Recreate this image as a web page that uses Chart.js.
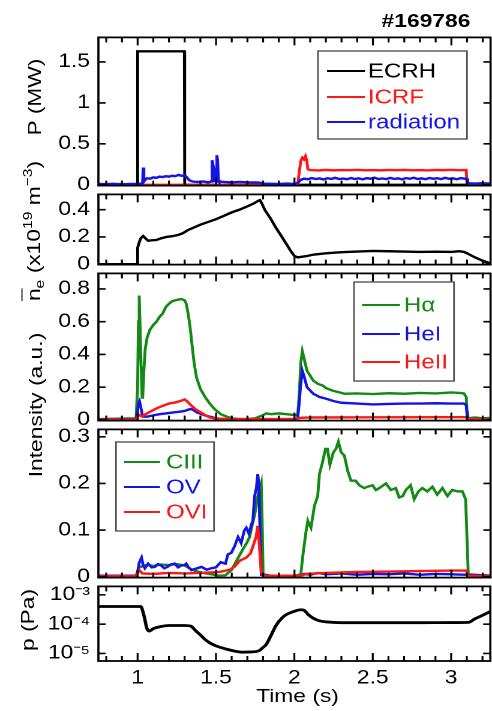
<!DOCTYPE html>
<html><head><meta charset="utf-8">
<script src="https://cdn.jsdelivr.net/npm/chart.js@4.4.1/dist/chart.umd.min.js"></script>
<style>
html,body{margin:0;padding:0;background:#fff;}
body{width:492px;height:711px;position:relative;overflow:hidden;font-family:"Liberation Sans",Arial,sans-serif;color:#000;}
#wrap{position:absolute;left:0;top:0;width:410px;height:711px;transform:scaleX(1.2);transform-origin:0 0;}
.pane{position:absolute;left:0;width:410px;}
.txt{position:absolute;white-space:nowrap;font-size:19px;line-height:1;transform:translate(-50%,-50%);}
.rot{position:absolute;white-space:nowrap;font-size:19px;line-height:1;transform:translate(-50%,-50%) rotate(-90deg) scaleX(1.2);}
.rot sub,.rot sup{font-size:13px;line-height:0;}
</style></head>
<body>
<div id="wrap">
  <div class="pane" style="top:19px;height:185px"><canvas id="c1"></canvas></div>
  <div class="pane" style="top:176px;height:107px"><canvas id="c2"></canvas></div>
  <div class="pane" style="top:255px;height:184px"><canvas id="c3"></canvas></div>
  <div class="pane" style="top:411px;height:185px"><canvas id="c4"></canvas></div>
  <div class="pane" style="top:568px;height:125px"><canvas id="c5"></canvas></div>
  <div class="txt" style="left:355px;top:20px;font-weight:bold;">#169786</div>
  <div class="txt" style="left:248px;top:695px;">Time (s)</div>
</div>
<div class="rot" style="left:34px;top:97px">P (MW)</div>
<div class="rot" style="left:33px;top:231px"><span style="text-decoration:overline">n</span><sub>e</sub> (x10<sup>19</sup> m<sup>−3</sup>)</div>
<div class="rot" style="left:35px;top:405px">Intensity (a.u.)</div>
<div class="rot" style="left:27px;top:620px">p (Pa)</div>
<script>
// ---------------- data ----------------
const xTickVals = [1, 1.5, 2, 2.5, 3];
const xTickLabels = ['1', '1.5', '2', '2.5', '3'];

const tEcrh = [0.75, 0.999, 1.0, 1.298, 1.3, 3.25];
const ecrh  = [0, 0, 1.63, 1.63, 0, 0];

const tIcrf = [0.75,2.02,2.028,2.04,2.05,2.06,2.07,2.078,2.085,2.1,2.15,2.2,2.25,2.3,2.35,2.4,2.45,2.5,2.55,2.6,2.65,2.7,2.75,2.8,2.85,2.9,2.95,3.0,3.05,3.095,3.1,3.25];
const icrf  = [0,0,0.12,0.29,0.33,0.31,0.35,0.3,0.19,0.18,0.175,0.182,0.176,0.18,0.178,0.183,0.177,0.18,0.176,0.181,0.178,0.182,0.177,0.18,0.175,0.181,0.179,0.183,0.178,0.18,0,0];

const tRad = [0.75,0.8,0.85,0.9,0.95,1.0,1.02,1.032,1.035,1.04,1.05,1.06,1.08,1.1,1.12,1.14,1.16,1.18,1.2,1.22,1.24,1.26,1.28,1.3,1.31,1.32,1.33,1.35,1.38,1.42,1.45,1.47,1.475,1.48,1.485,1.49,1.5,1.505,1.51,1.515,1.52,1.55,1.6,1.65,1.7,1.75,1.78,1.8,1.85,1.9,1.95,2.0,2.02,2.04,
  2.06,2.085,2.11,2.135,2.16,2.185,2.21,2.235,2.26,2.285,2.31,2.335,2.36,2.385,2.41,2.435,2.46,2.485,2.51,2.535,2.56,2.585,2.61,2.635,2.66,2.685,2.71,2.735,2.76,2.785,2.81,2.835,2.86,2.885,2.91,2.935,2.96,2.985,3.01,3.035,3.06,3.085,
  3.1,3.105,3.15,3.2,3.25];
const rad = [0.01,0.008,0.012,0.006,0.01,0.01,0.012,0.03,0.21,0.04,0.065,0.08,0.075,0.09,0.085,0.1,0.095,0.105,0.1,0.11,0.105,0.12,0.11,0.115,0.1,0.075,0.055,0.04,0.035,0.04,0.03,0.04,0.3,0.25,0.2,0.05,0.04,0.36,0.3,0.06,0.04,0.035,0.03,0.035,0.03,0.028,0.025,0.015,0.012,0.01,0.015,0.01,0.02,0.06,
  0.075,0.068,0.082,0.07,0.078,0.065,0.08,0.072,0.085,0.07,0.076,0.068,0.083,0.071,0.079,0.066,0.081,0.074,0.087,0.07,0.077,0.069,0.084,0.072,0.078,0.066,0.082,0.073,0.086,0.071,0.078,0.068,0.083,0.074,0.08,0.069,0.085,0.073,0.079,0.067,0.081,0.075,
  0.07,0.02,0.015,0.02,0.015];

const tNe = [0.75,0.998,1.0,1.01,1.02,1.035,1.05,1.067,1.09,1.12,1.15,1.184,1.22,1.26,1.29,1.32,1.36,1.4,1.45,1.5,1.55,1.6,1.65,1.7,1.74,1.77,1.78,1.79,1.81,1.85,1.88,1.92,1.95,1.98,2.0,2.02,2.05,2.08,2.12,2.2,2.3,2.4,2.5,2.6,2.7,2.8,2.9,3.0,3.05,3.08,3.1,3.15,3.2,3.25];
const ne  = [0,0,0.12,0.16,0.19,0.207,0.19,0.172,0.175,0.178,0.19,0.2,0.205,0.215,0.228,0.25,0.27,0.29,0.31,0.33,0.355,0.38,0.4,0.425,0.445,0.465,0.47,0.45,0.4,0.33,0.27,0.2,0.145,0.09,0.06,0.05,0.055,0.06,0.07,0.08,0.088,0.093,0.097,0.095,0.093,0.09,0.092,0.09,0.095,0.09,0.08,0.05,0.025,0.005];

const tHa = [0.75,0.9,0.99,1.0,1.005,1.01,1.015,1.02,1.028,1.032,1.04,1.048,1.06,1.078,1.1,1.12,1.14,1.16,1.18,1.2,1.22,1.24,1.26,1.28,1.3,1.31,1.32,1.33,1.34,1.35,1.36,1.375,1.4,1.43,1.46,1.49,1.53,1.57,1.6,1.65,1.7,1.75,1.8,1.82,1.85,1.9,1.95,2.0,2.02,2.03,2.04,2.05,2.06,2.08,2.1,2.12,2.15,2.18,2.2,2.24,2.28,2.32,2.4,2.5,2.6,2.7,2.8,2.9,3.0,3.05,3.08,3.095,3.1,3.105,3.15,3.2,3.25];
const ha  = [0.005,0.008,0.01,0.2,0.6,0.76,0.6,0.4,0.15,0.13,0.3,0.43,0.5,0.55,0.58,0.6,0.63,0.65,0.69,0.71,0.725,0.73,0.735,0.738,0.73,0.71,0.66,0.6,0.52,0.43,0.35,0.26,0.19,0.14,0.1,0.067,0.035,0.02,0.01,0.005,0.005,0.01,0.03,0.04,0.035,0.04,0.035,0.03,0.03,0.15,0.35,0.42,0.38,0.3,0.27,0.24,0.22,0.21,0.195,0.18,0.17,0.16,0.162,0.158,0.163,0.16,0.165,0.162,0.168,0.165,0.162,0.14,0.05,0.01,0.015,0.01,0.012];

const tHe1 = [0.75,0.99,1.0,1.005,1.012,1.02,1.03,1.04,1.06,1.1,1.14,1.18,1.22,1.25,1.28,1.3,1.32,1.34,1.36,1.38,1.41,1.44,1.47,1.5,1.55,1.6,1.8,2.0,2.02,2.03,2.04,2.05,2.06,2.08,2.1,2.12,2.14,2.16,2.2,2.25,2.3,2.4,2.5,2.6,2.7,2.8,2.9,3.0,3.08,3.095,3.1,3.105,3.25];
const he1  = [0.003,0.005,0.05,0.1,0.115,0.08,0.03,0.02,0.02,0.028,0.035,0.04,0.045,0.048,0.052,0.055,0.062,0.067,0.058,0.045,0.035,0.025,0.018,0.01,0.005,0.003,0.004,0.005,0.01,0.1,0.22,0.3,0.27,0.2,0.18,0.16,0.15,0.14,0.13,0.115,0.105,0.1,0.095,0.098,0.1,0.1,0.102,0.1,0.1,0.09,0.03,0.005,0.005];

const tHe2 = [0.75,0.99,1.0,1.01,1.03,1.05,1.08,1.12,1.16,1.2,1.24,1.28,1.3,1.32,1.34,1.37,1.4,1.43,1.46,1.5,1.6,2.0,2.03,2.1,2.5,3.0,3.095,3.1,3.25];
const he2  = [0.002,0.003,0.02,0.03,0.02,0.035,0.05,0.07,0.086,0.1,0.107,0.118,0.125,0.11,0.09,0.065,0.048,0.03,0.015,0.008,0.005,0.005,0.012,0.015,0.016,0.017,0.017,0.005,0.003];

const tC3 = [0.75,0.99,1.0,1.01,1.03,1.06,1.1,1.15,1.2,1.25,1.3,1.33,1.37,1.42,1.47,1.52,1.56,1.6,1.64,1.67,1.7,1.714,1.73,1.746,1.766,1.78,1.788,1.795,1.8,1.85,2.0,2.04,2.055,2.074,2.085,2.095,2.105,2.127,2.148,2.159,2.18,2.197,2.21,2.226,2.248,2.264,2.28,2.297,2.318,2.339,2.36,2.39,2.413,2.445,2.466,2.498,2.519,2.54,2.583,2.614,2.646,2.667,2.69,2.71,2.74,2.763,2.79,2.815,2.847,2.879,2.91,2.943,2.975,3.006,3.038,3.07,3.091,3.1,3.108,3.25];
const c3  = [0.002,0.002,0.01,0.02,0.022,0.025,0.023,0.026,0.025,0.027,0.024,0.018,0.012,0.008,0.005,0.002,0.003,0.015,0.04,0.058,0.075,0.085,0.11,0.132,0.173,0.19,0.2,0.1,0.005,0.002,0.002,0.005,0.05,0.098,0.12,0.112,0.105,0.152,0.173,0.22,0.247,0.274,0.274,0.24,0.267,0.274,0.29,0.267,0.26,0.227,0.206,0.206,0.196,0.19,0.193,0.196,0.186,0.19,0.2,0.186,0.19,0.17,0.173,0.186,0.196,0.166,0.183,0.19,0.183,0.193,0.176,0.19,0.173,0.186,0.183,0.183,0.166,0.08,0.005,0.002];

const tOv = [0.75,0.99,1.0,1.01,1.025,1.035,1.046,1.067,1.09,1.11,1.13,1.15,1.17,1.19,1.21,1.236,1.258,1.278,1.3,1.31,1.325,1.343,1.37,1.407,1.44,1.47,1.5,1.51,1.53,1.56,1.576,1.597,1.618,1.64,1.66,1.68,1.693,1.71,1.725,1.734,1.746,1.757,1.766,1.772,1.78,1.788,1.85,2.04,2.06,2.1,2.15,2.2,2.3,2.4,2.5,2.6,2.7,2.8,2.9,3.0,3.1,3.25];
const ov  = [0.002,0.002,0.01,0.03,0.041,0.025,0.018,0.028,0.02,0.021,0.027,0.024,0.018,0.021,0.026,0.028,0.02,0.024,0.025,0.028,0.02,0.014,0.017,0.021,0.015,0.018,0.02,0.024,0.031,0.028,0.048,0.051,0.065,0.085,0.072,0.099,0.105,0.092,0.112,0.119,0.173,0.19,0.22,0.2,0.1,0.004,0.002,0.002,0.006,0.004,0.008,0.005,0.007,0.004,0.006,0.005,0.007,0.004,0.006,0.005,0.004,0.002];

const tOvi = [0.75,0.99,1.0,1.01,1.03,1.1,1.2,1.3,1.4,1.52,1.587,1.62,1.65,1.693,1.72,1.735,1.755,1.766,1.775,1.788,1.8,2.04,2.08,2.2,2.4,2.6,2.8,3.0,3.095,3.105,3.25];
const ovi  = [0.001,0.001,0.008,0.014,0.007,0.006,0.008,0.007,0.008,0.01,0.015,0.022,0.034,0.041,0.05,0.065,0.085,0.109,0.07,0.012,0.002,0.002,0.006,0.008,0.01,0.011,0.012,0.013,0.013,0.002,0.001];

const tP = [0.75,1.02,1.04,1.06,1.075,1.1,1.15,1.2,1.3,1.34,1.37,1.4,1.43,1.46,1.5,1.566,1.62,1.671,1.72,1.777,1.8,1.82,1.85,1.883,1.92,1.947,2.0,2.04,2.06,2.09,2.12,2.16,2.2,2.3,2.5,2.8,3.0,3.11,3.15,3.2,3.25];
const pres = [4.0e-4,4.0e-4,2.0e-4,7.0e-5,5.8e-5,7.0e-5,8.3e-5,9.0e-5,9.0e-5,8.5e-5,6.0e-5,4.3e-5,3.0e-5,2.3e-5,1.8e-5,1.4e-5,1.2e-5,1.1e-5,1.12e-5,1.25e-5,1.6e-5,2.0e-5,4.0e-5,9.0e-5,1.6e-4,2.1e-4,2.75e-4,3.1e-4,3.0e-4,2.1e-4,1.6e-4,1.3e-4,1.2e-4,1.12e-4,1.12e-4,1.12e-4,1.13e-4,1.15e-4,1.5e-4,2.0e-4,2.7e-4];

const yTicksP = [0, 0.5, 1, 1.5];          const yLabelsP = ['0','0.5','1','1.5'];
const yTicksNe = [0, 0.2, 0.4];            const yLabelsNe = ['0','0.2','0.4'];
const yTicksI = [0, 0.2, 0.4, 0.6, 0.8];   const yLabelsI = ['0','0.2','0.4','0.6','0.8'];
const yTicksI2 = [0, 0.1, 0.2, 0.3];       const yLabelsI2 = ['0','0.1','0.2','0.3'];
const yTicksPr = [1e-5, 1e-4, 1e-3];       const yLabelsPr = ['10⁻⁵','10⁻⁴','10⁻³'];

// ---------------- drawing ----------------
const FONT = '"Liberation Sans", Arial, sans-serif';
const S = 1.2;            // horizontal stretch of the page wrapper
const Y_AXIS_W = 82;      // inner px
const GREEN = '#138a13', BLUE = '#1414e6', RED = '#ff1616', BLACK = '#000000';
Chart.defaults.font.family = FONT;
Chart.defaults.font.size = 19;
Chart.defaults.color = '#000';

function pts(t, v) { return t.map((x, i) => ({ x: x, y: v[i] })); }

const frameTicks = {
  id: 'frameTicks',
  afterDatasetsDraw(chart) {
    const ctx = chart.ctx, a = chart.chartArea, xs = chart.scales.x, ys = chart.scales.y;
    ctx.save();
    ctx.strokeStyle = '#000'; ctx.lineWidth = 1.8;
    ctx.strokeRect(a.left, a.top, a.right - a.left, a.bottom - a.top);
    ctx.beginPath();
    ctx.lineWidth = 1.6;
    for (let k = 8; k <= 32; k++) {
      const px = xs.getPixelForValue(k / 10);
      const len = (k % 5 === 0) ? 8 : 5;
      ctx.moveTo(px, a.top); ctx.lineTo(px, a.top + len);
      ctx.moveTo(px, a.bottom); ctx.lineTo(px, a.bottom - len);
    }
    ys.ticks.forEach(t => {
      const py = ys.getPixelForValue(t.value);
      ctx.moveTo(a.left, py); ctx.lineTo(a.left + 6, py);
      ctx.moveTo(a.right, py); ctx.lineTo(a.right - 6, py);
    });
    ctx.stroke();
    ctx.restore();
  }
};

const boxLegend = {
  id: 'boxLegend',
  afterDraw(chart, args, o) {
    if (!o || !o.box) return;
    const ctx = chart.ctx, top = o.top;
    const X = v => v / S, Y = v => v - top;
    const b = o.box;
    ctx.save();
    ctx.fillStyle = '#fff'; ctx.strokeStyle = '#555'; ctx.lineWidth = 1.4;
    ctx.fillRect(X(b[0]), Y(b[1]), X(b[2]) - X(b[0]), b[3] - b[1]);
    ctx.strokeRect(X(b[0]), Y(b[1]), X(b[2]) - X(b[0]), b[3] - b[1]);
    ctx.font = o.fontSize + 'px ' + FONT;
    ctx.textBaseline = 'middle'; ctx.textAlign = 'left';
    chart.data.datasets.forEach((d, i) => {
      const y = Y(o.rows[i]);
      ctx.strokeStyle = d.borderColor; ctx.lineWidth = 2;
      ctx.beginPath(); ctx.moveTo(X(o.line[0]), y); ctx.lineTo(X(o.line[1]), y); ctx.stroke();
      ctx.fillStyle = d.borderColor;
      ctx.fillText(d.label, X(o.textX), y + 1);
    });
    ctx.restore();
  }
};

function ds(label, t, v, color, n, i, extra) {
  return Object.assign({ label: label, data: pts(t, v), borderColor: color, backgroundColor: color,
    borderWidth: 2.4, pointRadius: 0, tension: 0, fill: false, order: n - 1 - i }, extra || {});
}

function yScale(type, min, max, ticks, labels) {
  return {
    type: type, min: min, max: max,
    afterFit(s) { s.width = Y_AXIS_W; },
    afterBuildTicks(s) { s.ticks = ticks.map(v => ({ value: v })); },
    ticks: { padding: 7, font: { size: 19 }, color: '#000', autoSkip: false,
      callback: (v, i) => labels[i] },
    grid: { display: false, drawTicks: false },
    border: { display: false }
  };
}

function makeChart(id, datasets, ys, legendOpts, withX) {
  const xs = withX ? {
    type: 'linear', min: 0.75, max: 3.25, position: 'bottom',
    afterFit(s) { s.height = 30; },
    afterBuildTicks(s) { s.ticks = xTickVals.map(v => ({ value: v })); },
    ticks: { padding: 6, font: { size: 19 }, color: '#000', maxRotation: 0, autoSkip: false,
      callback: (v, i) => xTickLabels[i] },
    grid: { display: false, drawTicks: false },
    border: { display: false }
  } : { type: 'linear', min: 0.75, max: 3.25, display: false };
  return new Chart(document.getElementById(id), {
    type: 'line',
    data: { datasets: datasets },
    options: {
      responsive: true, maintainAspectRatio: false, animation: false, devicePixelRatio: 2,
      events: [],
      layout: { padding: { top: 14, bottom: withX ? 2 : 14, left: 0, right: 1 } },
      plugins: { legend: { display: false }, tooltip: { enabled: false }, boxLegend: legendOpts || {} },
      scales: { x: xs, y: ys }
    },
    plugins: [frameTicks, boxLegend]
  });
}

makeChart('c1', [
  ds('ECRH', tEcrh, ecrh, BLACK, 3, 0),
  ds('ICRF', tIcrf, icrf, RED, 3, 1),
  ds('radiation', tRad, rad, BLUE, 3, 2)
], yScale('linear', -0.01, 1.8, yTicksP, yLabelsP),
  { top: 19, box: [318, 51, 467, 139], rows: [71, 97, 122], line: [327, 365], textX: 368, fontSize: 20 });

makeChart('c2', [
  ds('ne', tNe, ne, BLACK, 1, 0)
], yScale('linear', -0.003, 0.512, yTicksNe, yLabelsNe), null);

makeChart('c3', [
  ds('Hα', tHa, ha, GREEN, 3, 0),
  ds('HeI', tHe1, he1, BLUE, 3, 1),
  ds('HeII', tHe2, he2, RED, 3, 2)
], yScale('linear', -0.004, 0.895, yTicksI, yLabelsI),
  { top: 255, box: [354, 282, 454, 381], rows: [305, 334, 362], line: [362, 400], textX: 404, fontSize: 20 });

makeChart('c4', [
  ds('CIII', tC3, c3, GREEN, 3, 0),
  ds('OV', tOv, ov, BLUE, 3, 1),
  ds('OVI', tOvi, ovi, RED, 3, 2)
], yScale('linear', -0.002, 0.316, yTicksI2, yLabelsI2),
  { top: 411, box: [116, 442, 214, 531], rows: [462, 487, 512], line: [124, 160], textX: 166, fontSize: 20 });

makeChart('c5', [
  ds('p', tP, pres, BLACK, 1, 0, { borderWidth: 2.8, cubicInterpolationMode: 'monotone' })
], yScale('logarithmic', Math.pow(10, -5.26), Math.pow(10, -2.71), yTicksPr, yLabelsPr), null, true);
</script>
</body></html>
